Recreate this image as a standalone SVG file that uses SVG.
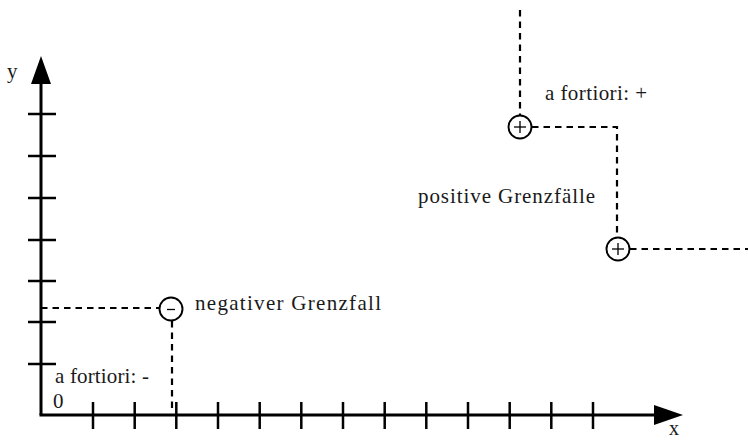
<svg xmlns="http://www.w3.org/2000/svg" width="748" height="441" viewBox="0 0 748 441">
  <defs>
    <style>
      .axis { stroke: #000; stroke-width: 3; fill: none; }
      .tick { stroke: #000; stroke-width: 2.5; }
      .dash { stroke: #000; stroke-width: 2.2; stroke-dasharray: 6.5 5; fill: none; }
      .node circle { fill: #fff; stroke: #000; stroke-width: 1.9; }
      .sign { stroke: #000; stroke-width: 1.3; }
      text { font-family: "Liberation Serif", "DejaVu Serif", serif; font-size: 21px; fill: #1a1a1a; }
      .small { font-size: 20px; }
    </style>
  </defs>
  <rect width="748" height="441" fill="#fff"/>

  <!-- axes -->
  <g id="axes">
    <line class="axis" x1="41" y1="415" x2="41" y2="78"/>
    <polygon points="41,56 31,84 51,84" fill="#000"/>
    <line class="axis" x1="39.5" y1="415" x2="660" y2="415"/>
    <polygon points="683,415 654,405 654,425" fill="#000"/>
    <g class="tick">
      <line x1="28" y1="114" x2="56" y2="114"/>
      <line x1="28" y1="156" x2="56" y2="156"/>
      <line x1="28" y1="198" x2="56" y2="198"/>
      <line x1="28" y1="240" x2="56" y2="240"/>
      <line x1="28" y1="281" x2="56" y2="281"/>
      <line x1="28" y1="322" x2="56" y2="322"/>
      <line x1="28" y1="364" x2="56" y2="364"/>
      <line x1="93" y1="402" x2="93" y2="429"/>
      <line x1="134.7" y1="402" x2="134.7" y2="429"/>
      <line x1="176.3" y1="402" x2="176.3" y2="429"/>
      <line x1="218" y1="402" x2="218" y2="429"/>
      <line x1="259.7" y1="402" x2="259.7" y2="429"/>
      <line x1="301.3" y1="402" x2="301.3" y2="429"/>
      <line x1="343" y1="402" x2="343" y2="429"/>
      <line x1="384.7" y1="402" x2="384.7" y2="429"/>
      <line x1="426.3" y1="402" x2="426.3" y2="429"/>
      <line x1="468" y1="402" x2="468" y2="429"/>
      <line x1="509.7" y1="402" x2="509.7" y2="429"/>
      <line x1="551.3" y1="402" x2="551.3" y2="429"/>
      <line x1="593" y1="402" x2="593" y2="429"/>
    </g>
    <text x="7" y="78">y</text>
    <text class="small" x="669" y="435">x</text>
    <text x="53" y="408">0</text>
  </g>

  <!-- connectors -->
  <g id="connectors">
    <line class="dash" x1="41" y1="308" x2="159" y2="308"/>
    <line class="dash" x1="172" y1="321" x2="172" y2="410"/>
    <line class="dash" x1="520" y1="10" x2="520" y2="115"/>
    <polyline class="dash" points="532,127 617,127 617,238"/>
    <line class="dash" x1="630" y1="249" x2="748" y2="249"/>
  </g>

  <!-- nodes -->
  <g id="neg" class="node">
    <circle cx="171" cy="309" r="11.5"/>
    <line class="sign" x1="167" y1="309.5" x2="175" y2="309.5"/>
  </g>
  <g id="pos1" class="node">
    <circle cx="520" cy="127" r="11.5"/>
    <line class="sign" x1="514" y1="127" x2="526" y2="127"/>
    <line class="sign" x1="520" y1="121" x2="520" y2="133"/>
  </g>
  <g id="pos2" class="node">
    <circle cx="618" cy="249" r="11.5"/>
    <line class="sign" x1="612" y1="249" x2="624" y2="249"/>
    <line class="sign" x1="618" y1="243" x2="618" y2="255"/>
  </g>

  <!-- labels -->
  <g id="labels">
    <text x="195" y="310" textLength="186" lengthAdjust="spacing">negativer Grenzfall</text>
    <text x="55" y="383" textLength="94" lengthAdjust="spacing">a fortiori: -</text>
    <text x="545" y="100" textLength="102" lengthAdjust="spacing">a fortiori: +</text>
    <text x="418" y="203" textLength="177" lengthAdjust="spacing">positive Grenzfälle</text>
  </g>
</svg>
